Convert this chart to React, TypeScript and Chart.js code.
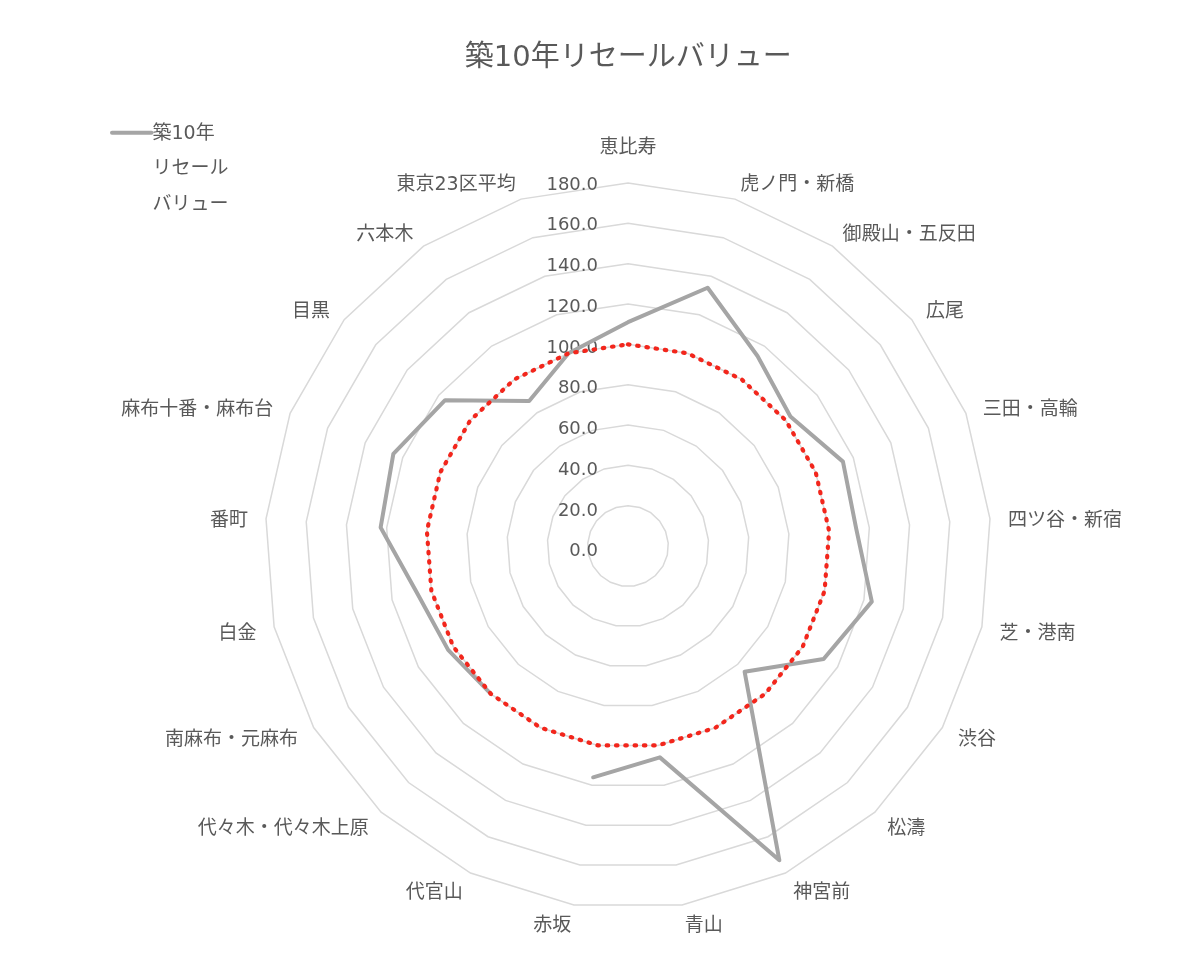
import React, { useEffect, useRef } from 'react';
import { Chart, registerables } from 'chart.js';

Chart.register(...registerables);

const FONT = "'DejaVu Sans', 'Noto Sans CJK JP', sans-serif";
const TEXT_COLOR = '#595959';
const GRID_COLOR = '#D9D9D9';
const GRAY = '#A5A5A5';
const RED = '#F2261C';

const titleText = '築10年リセールバリュー';
const legendLines = ['築10年', 'リセール', 'バリュー'];

const categories = [
  '恵比寿',
  '虎ノ門・新橋',
  '御殿山・五反田',
  '広尾',
  '三田・高輪',
  '四ツ谷・新宿',
  '芝・港南',
  '渋谷',
  '松濤',
  '神宮前',
  '青山',
  '赤坂',
  '代官山',
  '代々木・代々木上原',
  '南麻布・元麻布',
  '白金',
  '番町',
  '麻布十番・麻布台',
  '目黒',
  '六本木',
  '東京23区平均',
];

const resaleValues: (number | null)[] = [
  111, 134, 114, 103, 114.5, 113.5, 124, 112, 85, 173, 106, 116, null, 100, 103, 107, 123, 125, 116, 87, 100,
];

const baselineValues = [
  100, 100, 100, 100, 100, 100, 100, 100, 100, 100, 100, 100, 100, 100, 100, 100, 100, 100, 100, 100, 100,
];

const tickValues = [0, 20, 40, 60, 80, 100, 120, 140, 160, 180];
const tickLabels = ['0.0', '20.0', '40.0', '60.0', '80.0', '100.0', '120.0', '140.0', '160.0', '180.0'];

const labelsPlugin = {
  id: 'excelLabels',
  beforeDatasetsDraw(chart: any) {
    const scale = chart.scales.r;
    const ctx = chart.ctx as CanvasRenderingContext2D;
    const maxV = tickValues[tickValues.length - 1];
    ctx.save();
    // value axis labels
    ctx.font = `18px ${FONT}`;
    ctx.fillStyle = TEXT_COLOR;
    ctx.textAlign = 'right';
    ctx.textBaseline = 'middle';
    tickValues.forEach((v, i) => {
      const d = scale.getDistanceFromCenterForValue(v);
      const y = scale.yCenter - d + 2 + 3.7 * (1 - v / maxV);
      ctx.fillText(tickLabels[i], scale.xCenter - 30, y);
    });
    // category labels
    ctx.font = `19px ${FONT}`;
    categories.forEach((label, i) => {
      const p = scale.getPointPosition(i, scale.drawingArea + 18);
      const ang = scale.getIndexAngle(i);
      const s = Math.sin(ang);
      const c = Math.cos(ang);
      let align: CanvasTextAlign = 'center';
      if (s > 0.01) align = 'left';
      else if (s < -0.01) align = 'right';
      let y = p.y + 3.5;
      if (Math.abs(s) <= 0.01) y -= 20 * Math.sign(c);
      ctx.textAlign = align;
      ctx.fillText(label, p.x, y);
    });
    ctx.restore();
  },
  afterDraw(chart: any) {
    const ctx = chart.ctx as CanvasRenderingContext2D;
    ctx.save();
    // legend sample line
    ctx.strokeStyle = GRAY;
    ctx.lineWidth = 4;
    ctx.lineCap = 'round';
    ctx.beginPath();
    ctx.moveTo(104, 124.7);
    ctx.lineTo(143.5, 124.7);
    ctx.stroke();
    // legend text
    ctx.font = `19px ${FONT}`;
    ctx.fillStyle = TEXT_COLOR;
    ctx.textAlign = 'left';
    ctx.textBaseline = 'middle';
    const ys = [126.5, 161.0, 197.5];
    legendLines.forEach((t, i) => ctx.fillText(t, 144.5, ys[i]));
    ctx.restore();
  },
};

export default function App() {
  const canvasRef = useRef<HTMLCanvasElement | null>(null);

  useEffect(() => {
    if (!canvasRef.current) return;
    const chart = new Chart(canvasRef.current, {
      type: 'radar',
      data: {
        labels: categories,
        datasets: [
          {
            label: '築10年リセールバリュー',
            data: resaleValues,
            borderColor: GRAY,
            borderWidth: 4,
            borderJoinStyle: 'round',
            borderCapStyle: 'round',
            pointRadius: 0,
            pointHoverRadius: 0,
            fill: false,
            spanGaps: false,
            order: 1,
          },
          {
            label: '基準',
            data: baselineValues,
            borderColor: RED,
            borderWidth: 4.2,
            borderDash: [1.5, 7.8],
            borderCapStyle: 'round',
            pointRadius: 0,
            pointHoverRadius: 0,
            fill: false,
            order: 0,
          },
        ],
      },
      options: {
        responsive: false,
        animation: false,
        events: [],
        layout: {
          padding: { top: 10, left: 56.4, right: 0, bottom: 48.7 },
        },
        plugins: {
          legend: { display: false },
          tooltip: { enabled: false },
          title: {
            display: true,
            text: titleText,
            color: TEXT_COLOR,
            fullSize: false,
            font: { family: FONT, size: 29, weight: 'normal' },
            padding: { top: 23.5, bottom: 107 },
          },
        },
        scales: {
          r: {
            min: 0,
            max: 180,
            ticks: { display: false, stepSize: 20 },
            grid: { color: GRID_COLOR, lineWidth: 1.5 },
            angleLines: { display: false },
            pointLabels: { display: false },
          },
        },
      },
      plugins: [labelsPlugin],
    });
    return () => chart.destroy();
  }, []);

  return (
    <div style={{ width: 1184, height: 950 }}>
      <canvas ref={canvasRef} width={1184} height={950} style={{ display: 'block' }} />
    </div>
  );
}
